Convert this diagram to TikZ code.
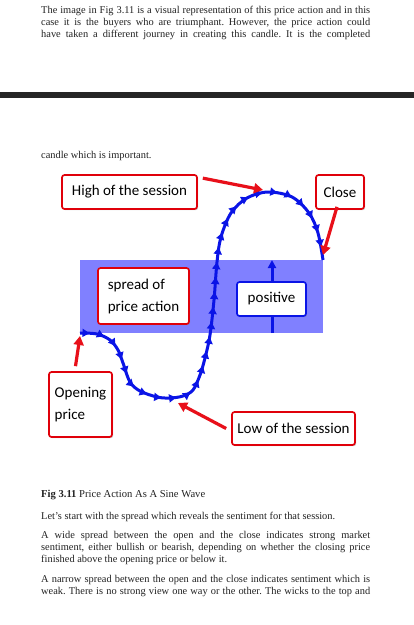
\documentclass[tikz,border=0pt]{standalone}
\usepackage{fontspec}
\setmainfont{Liberation Serif}
\newfontfamily\lblfont{Carlito}
\usetikzlibrary{arrows.meta,decorations.markings,shadows}
\definecolor{boxred}{HTML}{E0000A}
\definecolor{arrred}{HTML}{E8101A}
\definecolor{spreadblue}{HTML}{8080FF}
\definecolor{curveblue}{HTML}{0A14E6}
\definecolor{textgray}{HTML}{222222}
\frenchspacing
\begin{document}
\begin{tikzpicture}[x=1pt,y=-1pt,
  body/.style={anchor=base west, inner sep=0pt, text=textgray, font=\fontsize{10.4}{12}\selectfont},
  lbl/.style={draw=boxred, line width=1.7pt, rounded corners=2.5pt, fill=white, inner sep=0pt,
    font=\lblfont\fontsize{15}{22}\selectfont, align=left,
    drop shadow={shadow xshift=1.2pt, shadow yshift=-1.2pt, opacity=0.35}},
  bluelbl/.style={lbl, draw=curveblue},
  redarrow/.style={draw=arrred, line width=3.2pt, -{Triangle[length=9pt,width=10pt]}},
  bluearrow/.style={draw=curveblue, line width=3pt, -{Triangle[length=8pt,width=8pt]}},
  pathline/.style={draw=curveblue, line width=3pt,
    postaction={decorate, decoration={markings,
      mark=between positions 0.02 and 0.99 step 15pt with {\arrow[curveblue]{Triangle[length=7pt,width=8pt]}}}}}
]
\useasboundingbox (0,0) rectangle (414,625);
\fill[white] (0,0) rectangle (414,625);

% top text
\node[body] (t1) at (41,13.3) {\makebox[329pt][s]{The image in Fig 3.11 is a visual representation of this price action and in this}};
\node[body] (t2) at (41,25.2) {\makebox[329pt][s]{case it is the buyers who are triumphant. However, the price action could}};
\node[body] (t3) at (41,37) {\makebox[329pt][s]{have taken a different journey in creating this candle. It is the completed}};

% page break bar
\fill[black!85] (0,92) rectangle (414,98);

\node[body] (t4) at (41,158) {candle which is important.};

% spread rectangle
\fill[spreadblue] (80,260) rectangle (323,333);

% positive arrow
\coordinate (pbot) at (272,333);
\coordinate (ptop) at (272,260);
\draw[bluearrow] (pbot) -- (ptop);

% curve
\coordinate (open) at (80,333);
\coordinate (low) at (170,398);
\coordinate (high) at (268,192);
\coordinate (close) at (323,260);
\draw[pathline] plot[smooth, tension=0.55] coordinates {
 (open) (97,334) (110,340) (118,350) (123,363) (130,382) (140,391) (157,397) (low) (183,396) (193,390)
 (200,375) (205,358) (210,335) (214,300) (217,262) (221,237) (231,213) (247,198) (high)
 (292,197) (309,213) (318,233) (close)};

% labels
\node[lbl, minimum width=135pt, minimum height=34pt] (hi) at (129.5,192) {High of the session};
\node[lbl, minimum width=48pt, minimum height=34pt, align=center] (cl) at (340,192) {Close};
\node[lbl, minimum width=91pt, minimum height=56pt] (sp) at (143.5,296) {spread of\\price action};
\node[bluelbl, minimum width=69pt, minimum height=34pt, align=center] (pos) at (271.5,299) {positive};
\node[lbl, minimum width=63pt, minimum height=65pt] (op) at (80.5,404.5) {Opening\\price};
\node[lbl, minimum width=123pt, minimum height=33pt, align=center] (lo) at (293.5,428.5) {Low of the session};

% red arrows
\coordinate (hiT) at (263,190);
\coordinate (clT) at (323,255);
\coordinate (opT) at (80,336);
\coordinate (loT) at (178,403);
\draw[redarrow] ([xshift=5pt,yshift=-4pt]hi.north east) -- (hiT);
\draw[redarrow] ([xshift=-3pt,yshift=3pt]cl.south) -- (clT);
\draw[redarrow] ([xshift=-5pt,yshift=5pt]op.north) -- (opT);
\draw[redarrow] ([xshift=-5pt,yshift=0pt]lo.west) -- (loT);

% caption and text below
\node[body, font=\fontsize{10.6}{12}\selectfont] (cap) at (41,497) {\textbf{Fig 3.11} Price Action As A Sine Wave};
\node[body] (b1) at (41,519) {Let's start with the spread which reveals the sentiment for that session.};
\node[body] (b2) at (41,538) {\makebox[329pt][s]{A wide spread between the open and the close indicates strong market}};
\node[body] (b3) at (41,550.5) {\makebox[329pt][s]{sentiment, either bullish or bearish, depending on whether the closing price}};
\node[body] (b4) at (41,562) {finished above the opening price or below it.};
\node[body] (b5) at (41,582) {\makebox[329pt][s]{A narrow spread between the open and the close indicates sentiment which is}};
\node[body] (b6) at (41,594) {\makebox[329pt][s]{weak. There is no strong view one way or the other. The wicks to the top and}};
\end{tikzpicture}
\end{document}
